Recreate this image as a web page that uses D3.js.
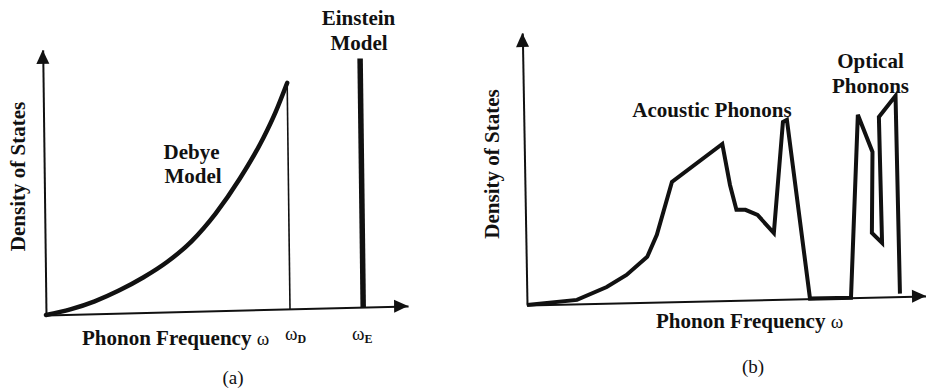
<!DOCTYPE html>
<html>
<head>
<meta charset="utf-8">
<script src="https://cdn.jsdelivr.net/npm/d3@7"></script>
<style>
  html, body { margin: 0; padding: 0; background: #fff; }
  svg { display: block; }
  svg text { font-family: "Liberation Serif", "DejaVu Serif", serif !important; }
</style>
</head>
<body>
<div id="chart"></div>
<script>
// ---------------- DATA ----------------
// Panel (a): Debye model curve (omega in units of omega_D, DOS normalised to peak)
const debyeOmega = [0, 0.10, 0.20, 0.30, 0.40, 0.50, 0.60, 0.70, 0.80, 0.90, 0.95, 1.00];
const debyeDOS   = [0, 0.022, 0.055, 0.100, 0.155, 0.222, 0.310, 0.430, 0.580, 0.760, 0.870, 1.00];
const omegaD = 1.00;
const omegaE = 1.30;
const einsteinHeight = 1.10;
const axisMaxA = { omega: 1.484, dos: 1.173 };

// Panel (b): realistic phonon DOS (acoustic + optical branches)
const realOmega = [0.00, 0.50, 0.80, 1.00, 1.21, 1.31, 1.47, 1.98, 2.05, 2.11, 2.20, 2.32, 2.48, 2.59, 2.63, 2.83, 3.24, 3.34, 3.48, 3.46, 3.56, 3.55, 3.72, 3.73];
const realDOS   = [0.000, 0.020, 0.081, 0.139, 0.227, 0.336, 0.599, 0.783, 0.577, 0.452, 0.451, 0.424, 0.332, 0.886, 0.896, 0.000, 0.000, 0.913, 0.726, 0.321, 0.270, 0.900, 1.004, 0.015];
const axisMaxB = { omega: 3.99, dos: 1.36 };

// Labels
const yLabel = "Density of States";
const xLabel = "Phonon Frequency ";
const omegaSym = "ω";
const labelsA = { debye: ["Debye", "Model"], einstein: ["Einstein", "Model"], wD: "D", wE: "E", caption: "(a)" };
const labelsB = { acoustic: "Acoustic Phonons", optical: ["Optical", "Phonons"], caption: "(b)" };

// ---------------- DRAW ----------------
const FONT = "Liberation Serif, DejaVu Serif, serif";
const W = 926, H = 391;
const svg = d3.select("#chart").append("svg").attr("width", W).attr("height", H);
svg.append("rect").attr("width", W).attr("height", H).attr("fill", "#fff");

function drawAxes(g, x, y, maxO, maxD) {
  const xa = d3.axisBottom(x).tickValues([]).tickSizeOuter(0);
  const gx = g.append("g").call(xa);
  gx.select(".domain").attr("stroke", "#111").attr("stroke-width", 2);
  const ya = d3.axisLeft(y).tickValues([]).tickSizeOuter(0);
  const gy = g.append("g").call(ya);
  gy.select(".domain").attr("stroke", "#111").attr("stroke-width", 2);
  const tx = x(maxO);
  g.append("path").attr("d", `M${tx},0 L${tx - 14},-6.5 L${tx - 14},6.5 Z`).attr("fill", "#111");
  const ty = y(maxD);
  g.append("path").attr("d", `M0,${ty} L-6.5,${ty + 14} L6.5,${ty + 14} Z`).attr("fill", "#111");
}

// ----- Panel (a) -----
const gA = svg.append("g").attr("transform", "translate(46,315) matrix(1,-0.0249,0.0125,1,0,0)");
const xA = d3.scaleLinear().domain([0, axisMaxA.omega]).range([0, 244 * axisMaxA.omega]);
const yA = d3.scaleLinear().domain([0, axisMaxA.dos]).range([0, -226 * axisMaxA.dos]);
drawAxes(gA, xA, yA, axisMaxA.omega, axisMaxA.dos);

const debyePts = debyeOmega.map((w, i) => [w, debyeDOS[i]]);
gA.append("path")
  .attr("d", d3.line().x(d => xA(d[0])).y(d => yA(d[1])).curve(d3.curveMonotoneX)(debyePts))
  .attr("fill", "none").attr("stroke", "#111").attr("stroke-width", 4.5).attr("stroke-linecap", "round");
gA.append("line").attr("x1", xA(omegaD)).attr("x2", xA(omegaD)).attr("y1", yA(0)).attr("y2", yA(debyeDOS[debyeDOS.length - 1]))
  .attr("stroke", "#111").attr("stroke-width", 1.6);
gA.append("line").attr("x1", xA(omegaE)).attr("x2", xA(omegaE)).attr("y1", yA(0)).attr("y2", yA(einsteinHeight))
  .attr("stroke", "#111").attr("stroke-width", 5.5);

// ----- Panel (b) -----
const gB = svg.append("g").attr("transform", "translate(527,305) matrix(1,-0.0226,0.0173,1,0,0)");
const xB = d3.scaleLinear().domain([0, axisMaxB.omega]).range([0, 100 * axisMaxB.omega]);
const yB = d3.scaleLinear().domain([0, axisMaxB.dos]).range([0, -200 * axisMaxB.dos]);
drawAxes(gB, xB, yB, axisMaxB.omega, axisMaxB.dos);
const realPts = realOmega.map((w, i) => [w, realDOS[i]]);
gB.append("path")
  .attr("d", d3.line().x(d => xB(d[0])).y(d => yB(d[1])).curve(d3.curveLinear)(realPts))
  .attr("fill", "none").attr("stroke", "#111").attr("stroke-width", 4).attr("stroke-linejoin", "miter").attr("stroke-miterlimit", 3);

// ----- Text -----
function label(x, y, txt, opts = {}) {
  return svg.append("text").attr("x", x).attr("y", y)
    .style("font-family", FONT).attr("fill", "#111")
    .attr("text-anchor", opts.anchor || "middle")
    .attr("font-size", opts.size || 21)
    .attr("font-weight", opts.weight || "bold")
    .attr("transform", opts.rotate ? `rotate(${opts.rotate},${x},${y})` : null)
    .text(txt);
}
// panel a
label(358.5, 25, labelsA.einstein[0]);
label(359, 50, labelsA.einstein[1]);
label(191.5, 159, labelsA.debye[0]);
label(193, 183, labelsA.debye[1]);
label(25, 176.5, yLabel, { rotate: -90 });
const xlA = label(82, 345, xLabel, { anchor: "start" });
xlA.append("tspan").attr("font-weight", "normal").attr("font-size", 19).text(omegaSym);
const wd = label(285, 340, "", { anchor: "start", weight: "normal", size: 19 });
wd.append("tspan").text(omegaSym);
wd.append("tspan").attr("font-size", 12).attr("font-weight", "bold").attr("dy", 3).text(labelsA.wD);
const we = label(352, 340, "", { anchor: "start", weight: "normal", size: 19 });
we.append("tspan").text(omegaSym);
we.append("tspan").attr("font-size", 12).attr("font-weight", "bold").attr("dy", 3).text(labelsA.wE);
label(233, 384, labelsA.caption, { weight: "normal", size: 19 });

// panel b
label(712, 117, labelsB.acoustic);
label(870.5, 68, labelsB.optical[0]);
label(870.5, 93, labelsB.optical[1]);
label(499, 164, yLabel, { rotate: -90 });
const xlB = label(656, 328, xLabel, { anchor: "start" });
xlB.append("tspan").attr("font-weight", "normal").attr("font-size", 19).text(omegaSym);
label(753, 373, labelsB.caption, { weight: "normal", size: 19 });
</script>
</body>
</html>
